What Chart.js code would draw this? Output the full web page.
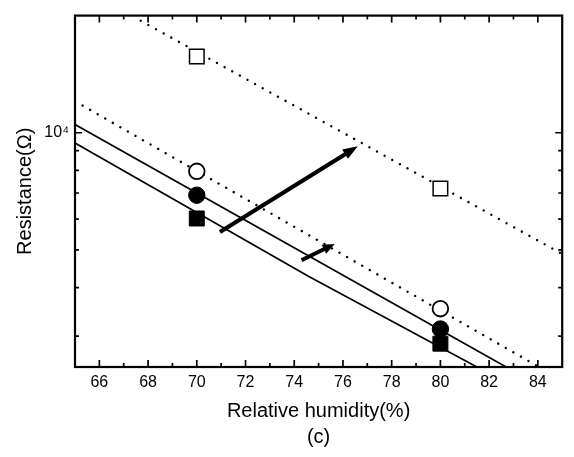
<!DOCTYPE html>
<html>
<head>
<meta charset="utf-8">
<script src="https://cdn.jsdelivr.net/npm/chart.js@4.4.0/dist/chart.umd.min.js"></script>
<style>
  html, body { margin: 0; padding: 0; background: #fff; }
  #wrap { width: 574px; height: 457px; position: relative; }
</style>
</head>
<body>
<div id="wrap"><canvas id="rhChart"></canvas></div>
<script>
'use strict';

// ── DATA ────────────────────────────────────────────────────────
var humidity     = [70, 80];
var openSquare   = [15700, 7190];
var openCircle   = [7960, 3530];
var filledCircle = [6910, 3130];
var filledSquare = [6020, 2870];

// fitted lines, end points as seen in the figure
var dotUpperX   = [67.7, 85];        var dotUpperY   = [19400, 4880];
var dotLowerX   = [65, 84.05];       var dotLowerY   = [12050, 2500];
var solidUpperX = [65, 82.7];        var solidUpperY = [10500, 2500];
var solidLowerX = [65, 74.6, 81.5];  var solidLowerY = [9410, 4270, 2500];

// arrows (tail -> head)
var bigArrowX   = [70.95, 76.61];    var bigArrowY   = [5560, 9230];
var smallArrowX = [74.3, 75.66];     var smallArrowY = [4700, 5180];

// axes
var xTickLabels = [66, 68, 70, 72, 74, 76, 78, 80, 82, 84];
var yTickValues = [3000, 4000, 5000, 6000, 7000, 8000, 9000, 10000];
var yMajor      = [10000];

// ── HELPERS ──────────────────────────────────────────────────────
function pts(xs, ys) {
  return xs.map(function (x, i) { return { x: x, y: ys[i] }; });
}

function lineSet(xs, ys, dotted) {
  return {
    data: pts(xs, ys),
    showLine: true,
    borderColor: '#000',
    borderWidth: dotted ? 2.4 : 1.7,
    borderDash: dotted ? [0.01, 8.7] : [],
    borderCapStyle: dotted ? 'round' : 'butt',
    pointRadius: 0,
    fill: false
  };
}

function markerSet(ys, style, radius, filled, bw) {
  return {
    data: pts(humidity, ys),
    showLine: false,
    pointStyle: style,
    pointRadius: radius,
    backgroundColor: filled ? '#000' : '#fff',
    borderColor: '#000',
    borderWidth: bw
  };
}

function drawArrow(ctx, x0, y0, x1, y1, w, headLen, headW) {
  var ang = Math.atan2(y1 - y0, x1 - x0);
  var c = Math.cos(ang), s = Math.sin(ang);
  var bx = x1 - headLen * c, by = y1 - headLen * s;
  ctx.lineWidth = w;
  ctx.lineCap = 'butt';
  ctx.beginPath();
  ctx.moveTo(x0, y0);
  ctx.lineTo(bx + c, by + s);
  ctx.stroke();
  ctx.beginPath();
  ctx.moveTo(x1, y1);
  ctx.lineTo(bx - headW / 2 * s, by + headW / 2 * c);
  ctx.lineTo(bx + headW / 2 * s, by - headW / 2 * c);
  ctx.closePath();
  ctx.fill();
}

// ── PLUGINS ──────────────────────────────────────────────────────
var arrowPlugin = {
  id: 'arrows',
  afterDatasetsDraw: function (chart) {
    var ctx = chart.ctx, xs = chart.scales.x, ys = chart.scales.y;
    ctx.save();
    ctx.fillStyle = '#000';
    ctx.strokeStyle = '#000';
    drawArrow(ctx,
      xs.getPixelForValue(bigArrowX[0]), ys.getPixelForValue(bigArrowY[0]),
      xs.getPixelForValue(bigArrowX[1]), ys.getPixelForValue(bigArrowY[1]),
      4.2, 15, 11);
    drawArrow(ctx,
      xs.getPixelForValue(smallArrowX[0]), ys.getPixelForValue(smallArrowY[0]),
      xs.getPixelForValue(smallArrowX[1]), ys.getPixelForValue(smallArrowY[1]),
      4, 12, 10);
    ctx.restore();
  }
};

var frameTicks = {
  id: 'frameTicks',
  afterDraw: function (chart) {
    var ctx = chart.ctx, a = chart.chartArea;
    var xs = chart.scales.x, ys = chart.scales.y;
    ctx.save();
    ctx.strokeStyle = '#000';
    ctx.lineWidth = 1.7;
    ctx.beginPath();
    xs.ticks.forEach(function (t) {
      var px = xs.getPixelForValue(t.value);
      if (px <= a.left + 1 || px >= a.right - 1) return;
      var len = xTickLabels.indexOf(t.value) >= 0 ? 7 : 4;
      ctx.moveTo(px, a.bottom); ctx.lineTo(px, a.bottom - len);
      ctx.moveTo(px, a.top);    ctx.lineTo(px, a.top + len);
    });
    ys.ticks.forEach(function (t) {
      var py = ys.getPixelForValue(t.value);
      var len = yMajor.indexOf(t.value) >= 0 ? 7 : 4;
      ctx.moveTo(a.left, py);  ctx.lineTo(a.left + len, py);
      ctx.moveTo(a.right, py); ctx.lineTo(a.right - len, py);
    });
    ctx.stroke();
    ctx.lineWidth = 2.2;
    ctx.strokeRect(a.left, a.top, a.right - a.left, a.bottom - a.top);
    ctx.restore();
  }
};

// ── CHART ────────────────────────────────────────────────────────
var FONT = 'Liberation Sans, Arial, Helvetica, sans-serif';

new Chart(document.getElementById('rhChart'), {
  type: 'scatter',
  data: {
    datasets: [
      markerSet(openSquare,   'rect',   10.3, false, 1.5),
      markerSet(openCircle,   'circle', 7.8,  false, 1.8),
      markerSet(filledCircle, 'circle', 8.2,  true,  1),
      markerSet(filledSquare, 'rect',   10.6, true,  1),
      lineSet(dotUpperX,   dotUpperY,   true),
      lineSet(dotLowerX,   dotLowerY,   true),
      lineSet(solidUpperX, solidUpperY, false),
      lineSet(solidLowerX, solidLowerY, false)
    ]
  },
  options: {
    responsive: true,
    maintainAspectRatio: false,
    animation: false,
    events: [],
    layout: { padding: { top: 10, right: 8, left: 0, bottom: 0 } },
    plugins: {
      legend: { display: false },
      tooltip: { enabled: false }
    },
    scales: {
      x: {
        type: 'linear',
        min: 65,
        max: 85,
        afterFit: function (scale) { scale.height = 90; },
        grid: { display: false, drawTicks: false },
        border: { display: false },
        ticks: {
          stepSize: 1,
          autoSkip: false,
          maxRotation: 0,
          padding: 6,
          color: '#000',
          font: { family: FONT, size: 16 },
          callback: function (v) {
            return xTickLabels.indexOf(v) >= 0 ? String(v) : '';
          }
        },
        title: {
          display: true,
          text: ['Relative humidity(%)', '(c)'],
          color: '#000',
          font: { family: FONT, size: 20, lineHeight: 1.3 },
          padding: { top: 0, bottom: 7 }
        }
      },
      y: {
        type: 'logarithmic',
        min: 2500,
        max: 20000,
        afterFit: function (scale) { scale.width = 75; },
        afterBuildTicks: function (scale) {
          scale.ticks = yTickValues.map(function (v) { return { value: v }; });
        },
        grid: { display: false, drawTicks: false },
        border: { display: false },
        ticks: {
          autoSkip: false,
          padding: 6,
          color: '#000',
          font: { family: FONT, size: 16 },
          callback: function (v) {
            return yMajor.indexOf(v) >= 0 ? '10\u2074' : '';
          }
        },
        title: {
          display: true,
          text: 'Resistance(\u03A9)',
          color: '#000',
          font: { family: FONT, size: 20 },
          padding: { top: 13, bottom: 0 }
        }
      }
    }
  },
  plugins: [arrowPlugin, frameTicks]
});
</script>
</body>
</html>
